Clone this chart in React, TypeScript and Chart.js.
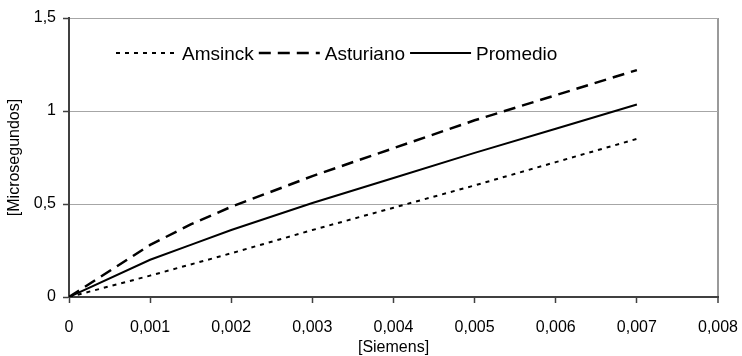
import React, { useEffect, useRef } from 'react';
import { Chart, registerables } from 'chart.js';

Chart.register(...registerables);

// ---- Data ----
const xValues = [0, 0.001, 0.0015, 0.002, 0.003, 0.004, 0.005, 0.006, 0.007];
const amsinck = [0, 0.115, 0.175, 0.235, 0.36, 0.48, 0.6, 0.725, 0.85];
const asturiano = [0, 0.28, 0.39, 0.485, 0.65, 0.8, 0.95, 1.085, 1.22];
const promedio = [0, 0.2, 0.28, 0.36, 0.505, 0.64, 0.775, 0.905, 1.035];
const seriesNames = ['Amsinck', 'Asturiano', 'Promedio'];

const xTickValues = [0, 0.001, 0.002, 0.003, 0.004, 0.005, 0.006, 0.007, 0.008];
const xTickLabels = ['0', '0,001', '0,002', '0,003', '0,004', '0,005', '0,006', '0,007', '0,008'];
const yTickValues = [0, 0.5, 1, 1.5];
const yTickLabels = ['0', '0,5', '1', '1,5'];
const xTitle = '[Siemens]';
const yTitle = '[Microsegundos]';

const FONT = '"Liberation Sans", Arial, sans-serif';

const toPoints = (ys: number[]) => xValues.map((x, i) => ({ x, y: ys[i] }));

const inlineLegend = {
  id: 'inlineLegend',
  afterDatasetsDraw(chart: any) {
    const { ctx } = chart;
    ctx.save();
    ctx.font = `19px ${FONT}`;
    ctx.textBaseline = 'alphabetic';
    ctx.textAlign = 'left';
    let x = 116;
    const y = 53;
    chart.data.datasets.forEach((ds: any) => {
      ctx.beginPath();
      ctx.setLineDash(ds.borderDash || []);
      ctx.lineWidth = ds.borderWidth;
      ctx.strokeStyle = ds.borderColor;
      ctx.moveTo(x, y);
      ctx.lineTo(x + 61, y);
      ctx.stroke();
      ctx.setLineDash([]);
      ctx.fillStyle = '#000';
      ctx.fillText(ds.label, x + 66, y + 7);
      x += 66 + ctx.measureText(ds.label).width + 5;
    });
    ctx.restore();
  },
};

export default function App() {
  const canvasRef = useRef<HTMLCanvasElement | null>(null);

  useEffect(() => {
    if (!canvasRef.current) return;
    const chart = new Chart(canvasRef.current, {
      type: 'line',
      data: {
        datasets: [
          {
            label: seriesNames[0],
            data: toPoints(amsinck),
            borderColor: '#000',
            borderWidth: 2,
            borderDash: [4, 5],
            pointRadius: 0,
            tension: 0,
          },
          {
            label: seriesNames[1],
            data: toPoints(asturiano),
            borderColor: '#000',
            borderWidth: 2.5,
            borderDash: [12, 7],
            pointRadius: 0,
            tension: 0,
          },
          {
            label: seriesNames[2],
            data: toPoints(promedio),
            borderColor: '#000',
            borderWidth: 2,
            borderDash: [],
            pointRadius: 0,
            tension: 0,
          },
        ],
      },
      options: {
        animation: false,
        responsive: true,
        maintainAspectRatio: false,
        layout: { padding: { top: 18, right: 24, left: 0, bottom: 0 } },
        plugins: {
          legend: { display: false },
          tooltip: { enabled: false },
        },
        scales: {
          x: {
            type: 'linear',
            min: 0,
            max: 0.008,
            afterBuildTicks: (scale: any) => {
              scale.ticks = xTickValues.map((v) => ({ value: v }));
            },
            afterFit: (scale: any) => {
              scale.height = 59;
              scale.paddingRight = 0;
              scale.paddingLeft = 0;
            },
            ticks: {
              autoSkip: false,
              maxRotation: 0,
              padding: 15,
              color: '#000',
              font: { family: FONT, size: 16 },
              callback: (_v: any, i: number) => xTickLabels[i],
            },
            grid: {
              drawOnChartArea: true,
              drawTicks: true,
              tickLength: 6,
              tickColor: '#404040',
              color: (c: any) => (c.index === xTickValues.length - 1 ? '#9a9a9a' : 'rgba(0,0,0,0)'),
              lineWidth: (c: any) => (c.index === xTickValues.length - 1 ? 2 : 1),
              tickWidth: 1.5,
            },
            border: { display: true, color: '#404040', width: 2 },
            title: {
              display: true,
              text: xTitle,
              color: '#000',
              font: { family: FONT, size: 16, lineHeight: 1 },
              padding: { top: 0, bottom: 0 },
            },
          },
          y: {
            type: 'linear',
            min: 0,
            max: 1.5,
            afterBuildTicks: (scale: any) => {
              scale.ticks = yTickValues.map((v) => ({ value: v }));
            },
            afterFit: (scale: any) => {
              scale.width = 69;
              scale.paddingTop = 0;
              scale.paddingBottom = 0;
            },
            ticks: {
              autoSkip: false,
              padding: 7,
              color: '#000',
              font: { family: FONT, size: 16 },
              callback: (_v: any, i: number) => yTickLabels[i],
            },
            grid: {
              drawTicks: true,
              tickLength: 6,
              tickColor: '#404040',
              tickWidth: 1.5,
              color: (c: any) => (c.index === 0 ? 'rgba(0,0,0,0)' : '#a6a6a6'),
              lineWidth: 1,
            },
            border: { display: true, color: '#404040', width: 2 },
            title: {
              display: true,
              text: yTitle,
              color: '#000',
              font: { family: FONT, size: 16, lineHeight: 1 },
              padding: { top: 7, bottom: 0 },
            },
          },
        },
      },
      plugins: [inlineLegend],
    });
    return () => chart.destroy();
  }, []);

  return (
    <div style={{ position: 'fixed', left: 0, top: 0, width: 742, height: 356, background: '#fff' }}>
      <canvas ref={canvasRef} />
    </div>
  );
}
